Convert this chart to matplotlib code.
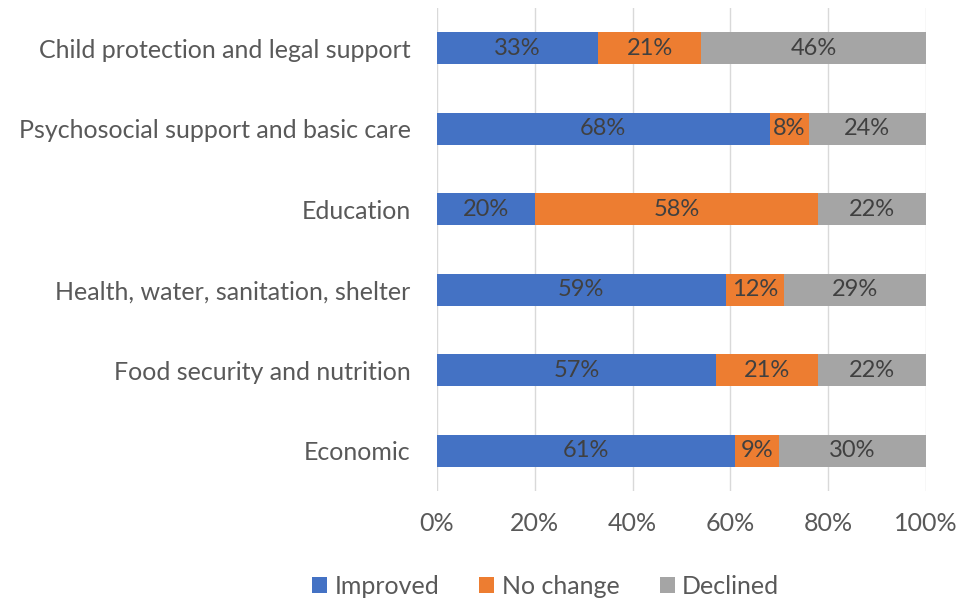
import matplotlib
matplotlib.use("Agg")
import matplotlib.pyplot as plt
import numpy as np

plt.rcParams['font.family'] = ['Lato', 'DejaVu Sans']

categories = ["Child protection and legal support",
              "Psychosocial support and basic care",
              "Education",
              "Health, water, sanitation, shelter",
              "Food security and nutrition",
              "Economic"]
improved = [33, 68, 20, 59, 57, 61]
no_change = [21, 8, 58, 12, 21, 9]
declined = [46, 24, 22, 29, 22, 30]
series_names = ["Improved", "No change", "Declined"]
colors = ["#4472C4", "#ED7D31", "#A5A5A5"]
xticks = [0, 20, 40, 60, 80, 100]
xticklabels = ["0%", "20%", "40%", "60%", "80%", "100%"]

fig = plt.figure(figsize=(9.59, 6.0), dpi=100)
ax = fig.add_axes([437/959, 1-491/600, (926-437)/959, (491-8)/600])

y = np.arange(len(categories))[::-1]
left = np.zeros(len(categories))
text_color = "#404040"
for vals, name, col in zip([improved, no_change, declined], series_names, colors):
    vals = np.array(vals, dtype=float)
    ax.barh(y, vals, left=left, height=0.4, color=col, label=name, zorder=3)
    for yi, l, v in zip(y, left, vals):
        ax.text(l + v/2, yi, f"{int(v)}%", ha="center", va="center",
                fontsize=17, color=text_color, zorder=4)
    left += vals

ax.set_xlim(0, 100)
ax.set_ylim(-0.5, len(categories) - 0.5)
ax.set_yticks(y)
ax.set_yticklabels(categories, fontsize=18, color="#595959")
ax.set_xticks(xticks)
ax.set_xticklabels(xticklabels, fontsize=18, color="#595959")
ax.tick_params(axis="both", length=0)
ax.tick_params(axis="y", pad=19)
ax.tick_params(axis="x", pad=15)
ax.grid(axis="x", color="#D9D9D9", linewidth=1, zorder=0)
for s in ax.spines.values():
    s.set_visible(False)

handles, labels = ax.get_legend_handles_labels()
fig.legend(handles, labels, loc="center", bbox_to_anchor=(0.569, 1-586/600), ncol=3,
           frameon=False, fontsize=18, handlelength=0.6, handleheight=0.6,
           columnspacing=1.6, handletextpad=0.3, labelcolor="#595959")

fig.savefig("out.png", dpi=100)
